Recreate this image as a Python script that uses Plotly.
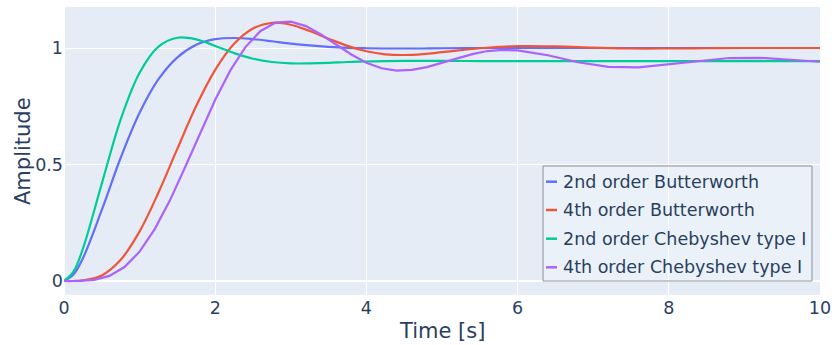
import plotly.graph_objects as go

# Step responses of low-pass filters (cutoff 2 rad/s, 0.5 dB ripple for Chebyshev)
t_fine = [0, 0.125, 0.25, 0.5, 0.75, 1.0, 1.25, 1.5, 1.75, 2.0, 2.25, 2.5, 2.75, 3.0,
          3.25, 3.5, 3.75, 4.0, 4.25, 4.5, 4.75, 5.0, 5.5, 6.0, 6.5, 7.0,
          7.5, 8.0, 8.5, 9.0, 9.5, 10.0]

butter2 = [0, 0.028, 0.098, 0.305, 0.529, 0.722, 0.866, 0.960, 1.014, 1.038, 1.043,
           1.038, 1.029, 1.019, 1.011, 1.005, 1.001, 0.999, 0.998, 0.998, 0.998,
           0.999, 1.000, 1.000, 1.000, 1.000, 1.000, 1.000, 1.000, 1.000, 1.000, 1.000]

butter4 = [0, 0.000, 0.003, 0.024, 0.091, 0.213, 0.380, 0.568, 0.752, 0.906, 1.018,
           1.084, 1.108, 1.100, 1.073, 1.040, 1.009, 0.986, 0.973, 0.970, 0.974,
           0.982, 0.999, 1.008, 1.007, 1.002, 0.998, 0.998, 0.999, 1.000, 1.000, 1.000]

cheby2 = [0, 0.040, 0.139, 0.418, 0.694, 0.894, 1.006, 1.044, 1.037, 1.009, 0.978,
          0.954, 0.940, 0.934, 0.934, 0.936, 0.940, 0.942, 0.944, 0.945, 0.945,
          0.945, 0.944, 0.944, 0.944, 0.944, 0.944, 0.944, 0.944, 0.944, 0.944, 0.944]

t_cheby4 = [0, 0.2, 0.4, 0.6, 0.8, 1.0, 1.2, 1.4, 1.6, 1.8, 2.0, 2.2, 2.4, 2.6,
            2.8, 3.0, 3.2, 3.4, 3.6, 3.8, 4.0, 4.2, 4.4, 4.6, 4.8, 5.0, 5.2,
            5.4, 5.6, 5.8, 6.0, 6.4, 6.8, 7.2, 7.6, 8.0, 8.4, 8.8, 9.2, 9.6, 10.0]

cheby4 = [0, 0.0004, 0.005, 0.022, 0.060, 0.126, 0.223, 0.345, 0.487, 0.635,
          0.778, 0.904, 1.004, 1.073, 1.109, 1.113, 1.094, 1.058, 1.015, 0.972,
          0.937, 0.913, 0.903, 0.906, 0.918, 0.937, 0.957, 0.974, 0.987, 0.992,
          0.990, 0.969, 0.939, 0.919, 0.917, 0.930, 0.946, 0.957, 0.958, 0.950, 0.941]

names = ["2nd order Butterworth", "4th order Butterworth",
         "2nd order Chebyshev type I", "4th order Chebyshev type I"]
colors = ["#636efa", "#EF553B", "#00cc96", "#ab63fa"]

FONT = "DejaVu Sans, Verdana, sans-serif"
TEXT = "#2a3f5f"

fig = go.Figure()
series = [(t_fine, butter2, "spline"), (t_fine, butter4, "spline"),
          (t_fine, cheby2, "spline"), (t_cheby4, cheby4, "linear")]
for (tx, ty, shape), name, col in zip(series, names, colors):
    fig.add_trace(go.Scatter(x=tx, y=ty, mode="lines", name=name,
                             line=dict(color=col, width=2.2, shape=shape),
                             showlegend=False))

# Legend box drawn in paper coordinates
box = dict(x0=0.6336, x1=0.9894, y0=0.0486, y1=0.448)
fig.add_shape(type="rect", xref="paper", yref="paper", **box,
              line=dict(color="#8a8f99", width=1),
              fillcolor="rgba(255,255,255,0.25)", layer="above")
row_y = [0.3934, 0.2951, 0.1955, 0.0962]
for name, col, ry in zip(names, colors, row_y):
    fig.add_shape(type="line", xref="paper", yref="paper",
                  x0=0.6376, x1=0.6521, y0=ry, y1=ry,
                  line=dict(color=col, width=2.5), layer="above")
    fig.add_annotation(x=0.6574, y=ry, xref="paper", yref="paper",
                       text=name, showarrow=False, xanchor="left",
                       yanchor="middle",
                       font=dict(family=FONT, size=17.5, color=TEXT))

# Axis titles
fig.add_annotation(x=0.5, y=-0.125, xref="paper", yref="paper",
                   text="Time [s]", showarrow=False, xanchor="center",
                   yanchor="middle", font=dict(family=FONT, size=21, color=TEXT))
fig.add_annotation(x=-0.0542, y=0.5, xref="paper", yref="paper",
                   text="Amplitude", showarrow=False, textangle=-90,
                   xanchor="center", yanchor="middle",
                   font=dict(family=FONT, size=21, color=TEXT))

fig.update_layout(
    template="plotly",
    width=832, height=345,
    margin=dict(l=64, r=12, t=7, b=50),
    font=dict(family=FONT, size=17.5, color=TEXT),
    xaxis=dict(range=[0, 10], dtick=2, automargin=False),
    yaxis=dict(range=[-0.06, 1.176], dtick=0.5, automargin=False),
)

fig.write_html("out.html")
